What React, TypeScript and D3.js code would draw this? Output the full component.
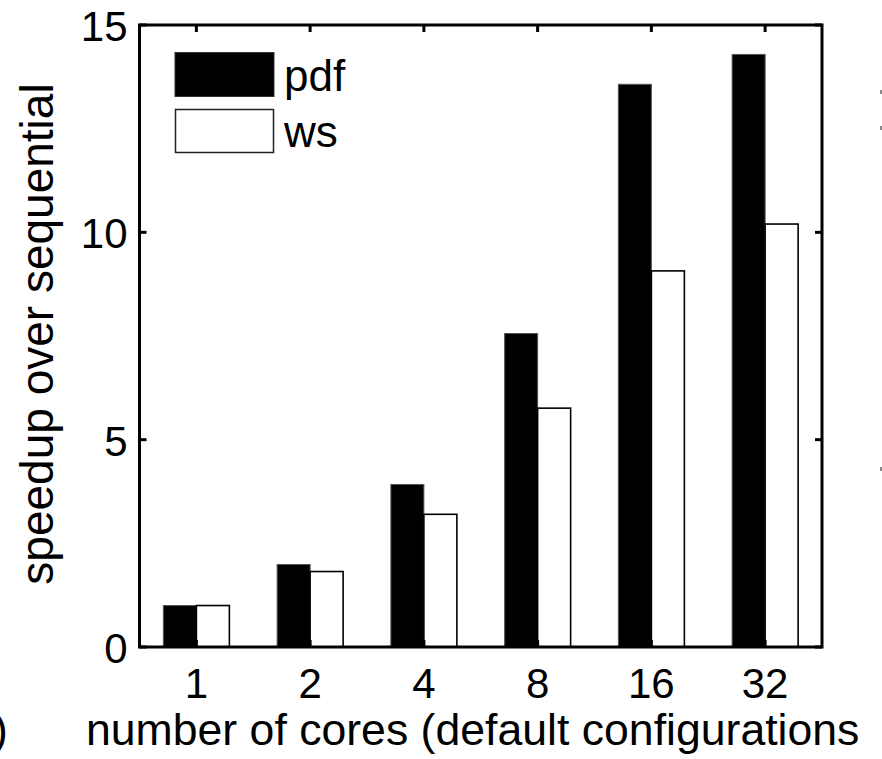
import React from "react";
import * as d3 from "d3";

const cores = ["1", "2", "4", "8", "16", "32"];
const seriesNames = ["pdf", "ws"];
const pdfSpeedup = [1.0, 1.99, 3.92, 7.56, 13.57, 14.29];
const wsSpeedup = [1.0, 1.82, 3.2, 5.76, 9.07, 10.2];
const yTicks = [0, 5, 10, 15];

const W = 882;
const H = 759;
const plot = { left: 139.5, right: 822, top: 25, bottom: 647 };
const FONT = "'Liberation Sans', Arial, Helvetica, sans-serif";

export default function App() {
  const x = d3
    .scaleBand<string>()
    .domain(cores)
    .range([plot.left, plot.right])
    .padding(0);
  const y = d3.scaleLinear().domain([0, 15]).range([plot.bottom, plot.top]);
  const barW = 33;
  const inner = d3
    .scaleBand<string>()
    .domain(seriesNames)
    .range([-barW, barW])
    .padding(0);

  const rows = cores.map((c, i) => ({ c, pdf: pdfSpeedup[i], ws: wsSpeedup[i] }));
  const tick = 7;

  return (
    <svg
      width={W}
      height={H}
      style={{ position: "absolute", left: 0, top: 0, background: "#fff" }}
      fontFamily={FONT}
    >
      {/* bars */}
      {rows.map((r) => {
        const cx = x(r.c)! + x.bandwidth() / 2;
        return (
          <g key={r.c}>
            <rect
              x={cx + inner("pdf")!}
              y={y(r.pdf)}
              width={inner.bandwidth()}
              height={y(0) - y(r.pdf)}
              fill="#000"
              stroke="#555"
              strokeWidth={1}
            />
            <rect
              x={cx + inner("ws")!}
              y={y(r.ws)}
              width={inner.bandwidth()}
              height={y(0) - y(r.ws)}
              fill="#fff"
              stroke="#000"
              strokeWidth={1.6}
            />
          </g>
        );
      })}

      {/* axes box */}
      <rect
        x={plot.left}
        y={plot.top}
        width={plot.right - plot.left}
        height={plot.bottom - plot.top}
        fill="none"
        stroke="#000"
        strokeWidth={3}
      />

      {/* y ticks */}
      {yTicks.map((t) => (
        <g key={t}>
          <line x1={plot.left} x2={plot.left + tick} y1={y(t)} y2={y(t)} stroke="#000" strokeWidth={3} />
          <line x1={plot.right} x2={plot.right - tick} y1={y(t)} y2={y(t)} stroke="#000" strokeWidth={3} />
          <text
            x={plot.left - 12}
            y={y(t) + 16}
            textAnchor="end"
            fontSize={42}
            fill="#000"
          >
            {t}
          </text>
        </g>
      ))}

      {/* x ticks */}
      {cores.map((c) => {
        const cx = x(c)! + x.bandwidth() / 2;
        return (
          <g key={c}>
            <line x1={cx} x2={cx} y1={plot.bottom} y2={plot.bottom - tick} stroke="#000" strokeWidth={3} />
            <line x1={cx} x2={cx} y1={plot.top} y2={plot.top + tick} stroke="#000" strokeWidth={3} />
            <text x={cx} y={698} textAnchor="middle" fontSize={42} fill="#000">
              {c}
            </text>
          </g>
        );
      })}

      {/* legend */}
      <rect x={175} y={52.5} width={99} height={44} fill="#000" stroke="#333" strokeWidth={1} />
      <text x={284} y={91} fontSize={44} fill="#000">pdf</text>
      <rect x={175.5} y={109.5} width={98} height={43} fill="#fff" stroke="#222" strokeWidth={1.5} />
      <text x={284} y={147} fontSize={44} fill="#000">ws</text>

      {/* axis labels */}
      <text x={86} y={745} fontSize={44.6} fill="#000">
        number of cores (default configurations
      </text>
      <text
        transform="translate(53,334) rotate(-90)"
        textAnchor="middle"
        fontSize={46}
        fill="#000"
      >
        speedup over sequential
      </text>
      <text x={-7} y={745} fontSize={44.6} fill="#000">)</text>

      {/* stray marks from neighbouring panel */}
      <rect x={880} y={90} width={2} height={4} fill="#888" />
      <rect x={880} y={126} width={2} height={4} fill="#888" />
      <rect x={880} y={467} width={2} height={4} fill="#888" />
    </svg>
  );
}
